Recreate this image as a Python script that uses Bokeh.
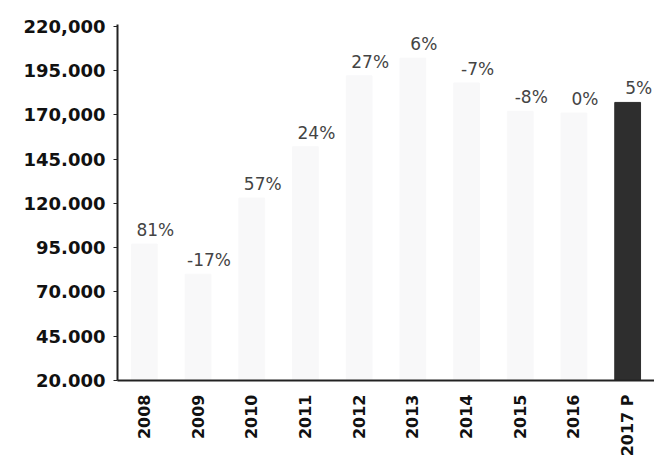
from bokeh.plotting import figure
from bokeh.models import ColumnDataSource, FixedTicker, Range1d, FactorRange
from bokeh.core.properties import value
from bokeh.embed import file_html
from bokeh.resources import INLINE

years = ["2008", "2009", "2010", "2011", "2012", "2013", "2014", "2015", "2016", "2017 P"]
volumes = [97000, 80000, 123000, 152000, 192000, 202000, 188000, 172000, 171000, 177000]
growth = ["81%", "-17%", "57%", "24%", "27%", "6%", "-7%", "-8%", "0%", "5%"]
bar_colors = ["#f8f8f9"] * 9 + ["#2e2e2e"]

y_ticks = [20000, 45000, 70000, 95000, 120000, 145000, 170000, 195000, 220000]
y_tick_labels = ["20.000", "45.000", "70.000", "95.000", "120.000", "145.000", "170,000", "195.000", "220,000"]

src = ColumnDataSource(dict(x=years, top=volumes, lab=growth, color=bar_colors))

p = figure(width=654, height=461, x_range=FactorRange(*years), y_range=Range1d(20000, 221000),
           output_backend="svg", toolbar_location=None,
           min_border_left=117, min_border_right=0, min_border_top=24, min_border_bottom=81)
p.background_fill_color = "white"
p.border_fill_color = "white"
p.outline_line_color = None
p.xgrid.visible = False
p.ygrid.visible = False
p.x_range.range_padding = 0

p.vbar(x="x", top="top", bottom=20000, width=0.48, color="color", source=src)

p.text(x="x", y="top", text="lab", source=src, text_align="center", text_baseline="bottom",
       x_offset=11, y_offset=-4, text_font=value("DejaVu Sans"), text_font_size="17px",
       text_color="#444444")

p.yaxis.ticker = FixedTicker(ticks=y_ticks)
p.yaxis.major_label_overrides = {t: s for t, s in zip(y_ticks, y_tick_labels)}
p.yaxis.minor_tick_line_color = None
p.yaxis.major_label_text_font = "DejaVu Sans"
p.yaxis.major_label_text_font_style = "bold"
p.yaxis.major_label_text_font_size = "18px"
p.yaxis.major_label_text_color = "#111111"
p.yaxis.axis_line_color = "#222222"
p.yaxis.axis_line_width = 2
p.yaxis.major_tick_line_color = "#222222"
p.yaxis.major_tick_in = 0
p.yaxis.major_tick_out = 4
p.yaxis.major_label_standoff = 8

p.xaxis.major_label_orientation = 1.5708
p.xaxis.major_label_text_font = "DejaVu Sans"
p.xaxis.major_label_text_font_style = "bold"
p.xaxis.major_label_text_font_size = "16px"
p.xaxis.major_label_text_color = "#111111"
p.xaxis.axis_line_color = "#222222"
p.xaxis.axis_line_width = 2
p.xaxis.major_tick_line_color = None
p.xaxis.major_label_standoff = 8

open("out.html", "w").write(file_html(p, INLINE))
